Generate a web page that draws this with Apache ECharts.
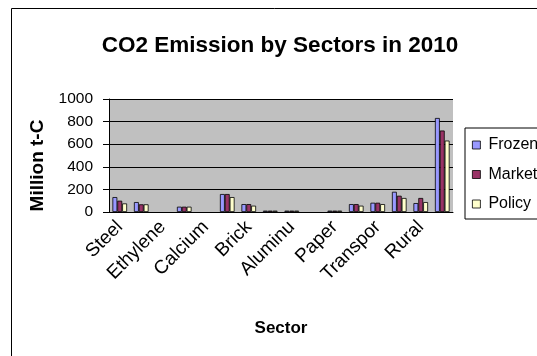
<!DOCTYPE html>
<html><head><meta charset="utf-8">
<script src="https://cdn.jsdelivr.net/npm/echarts@6/dist/echarts.min.js"></script>
<style>html,body{margin:0;padding:0;background:#fff}#c{width:537px;height:356px}</style>
</head><body><div id="c"></div>
<script>
var categories = ["Steel","Cement","Ethylene","Ammonia","Calcium","Glass","Brick","Lime","Aluminum","Copper","Paper","Textile","Transport","Commercial","Rural","Urban"];
var frozen = [132, 88, null, 47, null, 159, 70, 12, 12, null, 12, 70, 82, 179, 79, 832];
var market = [100, 68, null, 47, null, 159, 70, 12, 12, null, 12, 70, 82, 144, 124, 721];
var policy = [76, 68, null, 47, null, 132, 56, 12, 12, null, 12, 56, 70, 124, 88, 632];
var yTicks = [0, 200, 400, 600, 800, 1000];

var chart = echarts.init(document.getElementById('c'), null, {renderer:'canvas'});
var font = 'Liberation Sans, Arial, sans-serif';
function s(name, data, color){
  return {name:name, type:'bar', data:data, barGap:'0%', barCategoryGap:'32%',
    itemStyle:{color:color, borderColor:'#000', borderWidth:0.8}, silent:true};
}
chart.setOption({
  animation:false,
  graphic:[{type:'rect', shape:{x:11.5,y:8.5,width:600,height:400}, style:{fill:'none',stroke:'#000',lineWidth:1}, z:-1}],
  title:{text:'CO2 Emission by Sectors in 2010', left:275, top:29, textAlign:'center',
    textStyle:{fontFamily:font, fontWeight:'bold', fontSize:22.5, color:'#000'}},
  legend:{left:465, top:128, orient:'vertical', itemWidth:8, itemHeight:8, itemGap:9.5,
    padding:[7,40,5,7], borderColor:'#000', borderWidth:1, icon:'rect',
    itemStyle:{borderColor:'#000', borderWidth:0.8},
    textStyle:{fontFamily:font, fontSize:16, color:'#000', lineHeight:20, padding:[0,0,0,3]},
    data:['Frozen','Market','Policy']},
  grid:{left:109, top:99, right:84, bottom:144},
  xAxis:{type:'category', data:categories, name:'Sector', nameLocation:'middle', nameGap:108,
    nameTextStyle:{fontFamily:font, fontWeight:'bold', fontSize:17, color:'#000'},
    axisLine:{lineStyle:{color:'#000'}}, axisTick:{alignWithLabel:false, length:6, lineStyle:{color:'#000'}, interval:0},
    axisLabel:{interval:1, rotate:45, fontFamily:font, fontSize:19, color:'#000', margin:12,
      width:77, overflow:'truncate', ellipsis:''}},
  yAxis:{type:'value', min:0, max:1000, interval:200, name:'Million t-C', nameLocation:'middle', nameGap:58,
    nameTextStyle:{fontFamily:font, fontWeight:'bold', fontSize:19, color:'#000', padding:[0,20,0,0]},
    axisLine:{show:true, lineStyle:{color:'#000'}}, axisTick:{show:true, length:6, lineStyle:{color:'#000'}},
    axisLabel:{fontFamily:font, fontSize:15.5, color:'#000', margin:16,
      formatter:function(v){return yTicks.indexOf(v)>=0 ? String(v) : '';}},
    splitLine:{show:true, lineStyle:{color:'#000', width:1}},
    splitArea:{show:true, areaStyle:{color:['#C0C0C0','#C0C0C0']}}},
  series:[s('Frozen', frozen, '#9999FF'), s('Market', market, '#993366'), s('Policy', policy, '#FFFFCC')]
});
</script></body></html>
